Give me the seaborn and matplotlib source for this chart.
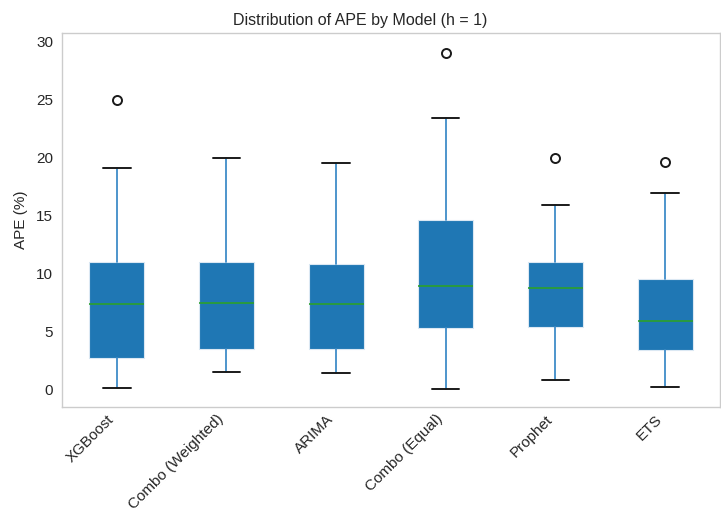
import matplotlib
matplotlib.use("Agg")
import matplotlib.pyplot as plt
import seaborn as sns

# Box statistics (APE %, h = 1)
models = ["XGBoost", "Combo (Weighted)", "ARIMA", "Combo (Equal)", "Prophet", "ETS"]
whislo = [0.1, 1.5, 1.4, 0.0, 0.8, 0.2]
q1 = [2.65, 3.45, 3.45, 5.3, 5.4, 3.35]
median = [7.3, 7.45, 7.3, 8.85, 8.7, 5.9]
q3 = [11.0, 11.0, 10.75, 14.55, 11.0, 9.5]
whishi = [19.1, 19.95, 19.45, 23.4, 15.85, 16.9]
fliers = [[24.9], [], [], [29.0], [19.95], [19.55]]

sns.set_theme(style="whitegrid", context="notebook")
plt.rcParams["font.family"] = ["Liberation Sans", "DejaVu Sans"]

stats = []
for i, m in enumerate(models):
    stats.append(dict(label=m, whislo=whislo[i], q1=q1[i], med=median[i],
                      q3=q3[i], whishi=whishi[i], fliers=fliers[i]))

fig = plt.figure(figsize=(7.21, 5.22), dpi=100)
ax = fig.add_axes([0.086, 0.220, 0.9125, 0.717])

c0 = "#1f77b4"
ax.bxp(stats, widths=0.5, patch_artist=True,
       boxprops=dict(facecolor=c0, edgecolor="#dbe8f3", linewidth=0.8),
       whiskerprops=dict(color="#3f8cc8", linewidth=1.3),
       capprops=dict(color="#1a1a1a", linewidth=1.4),
       medianprops=dict(color="#2ca02c", linewidth=1.2),
       flierprops=dict(marker="o", markerfacecolor="white",
                       markeredgecolor="#1a1a1a", markersize=6.5, markeredgewidth=1.4))

ax.grid(False)
ax.set_xlim(0.5, 6.5)
ax.set_ylim(-1.55, 30.7)
ax.set_yticks([0, 5, 10, 15, 20, 25, 30])
for s in ax.spines.values():
    s.set_color("#cccccc")
    s.set_linewidth(1.0)
title_x = (360.5 / 721 - 0.086) / 0.9125
ax.set_title("Distribution of APE by Model (h = 1)", fontsize=11.5, color="#262626", x=title_x)
ax.set_ylabel("APE (%)", fontsize=11, color="#262626", labelpad=6)
ax.tick_params(axis="both", labelsize=11, colors="#262626", length=0)
ax.tick_params(axis="y", pad=6.5)
plt.setp(ax.get_xticklabels(), rotation=45, ha="right")

fig.savefig("out.png", dpi=100)
